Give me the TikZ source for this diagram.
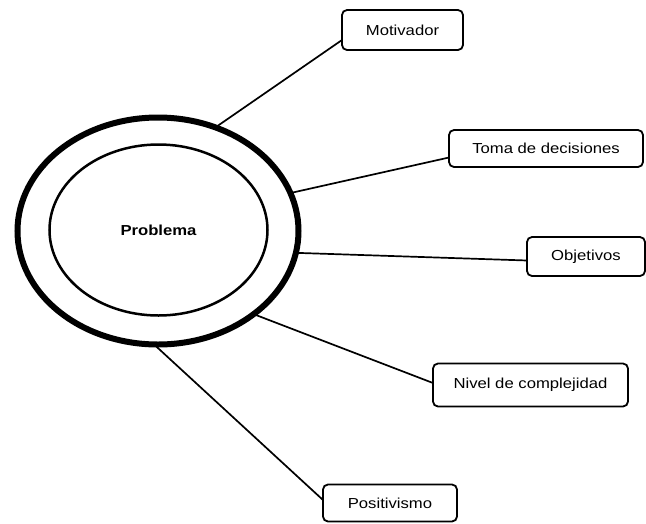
\documentclass[tikz,border=0pt]{standalone}
\usepackage{fontspec}
\setmainfont{Liberation Sans}[FakeStretch=1.15]
\usetikzlibrary{shapes.geometric}
\begin{document}
\begin{tikzpicture}[x=1pt,y=-1pt,
  labelbox/.style={draw, line width=1.8pt, rounded corners=5pt, inner sep=0pt,
    outer sep=0pt, font=\fontsize{14.5}{16}\selectfont},
  ring/.style={ellipse, draw, inner sep=0pt, outer sep=0pt},
  link/.style={line width=1.7pt}]
  \useasboundingbox (0,0) rectangle (646,523);

  % central problem: double ring
  \node[ring, line width=6pt, minimum width=281pt, minimum height=227pt] (outer) at (158,231) {};
  \node[ring, line width=2.5pt, minimum width=218pt, minimum height=171pt,
        font=\bfseries\fontsize{14.5}{16}\selectfont] (inner) at (158.5,230) {Problema};

  % surrounding aspects
  \node[labelbox, minimum width=121pt, minimum height=40pt] (mot) at (402.5,30) {Motivador};
  \node[labelbox, minimum width=194pt, minimum height=37pt] (toma) at (546,148.5) {Toma de decisiones};
  \node[labelbox, minimum width=118pt, minimum height=39pt] (obj) at (586,256.5) {Objetivos};
  \node[labelbox, minimum width=195pt, minimum height=43pt] (niv) at (530.5,385) {Nivel de complejidad};
  \node[labelbox, minimum width=134pt, minimum height=37pt] (pos) at (390,503) {Positivismo};

  % connectors from the ring to each box
  \draw[link] (outer.61) -- ([yshift=-10pt]mot.west);
  \draw[link] (outer.16) -- ([yshift=-9pt]toma.west);
  \draw[link] (outer.-9.6) -- ([yshift=-4pt]obj.west);
  \draw[link] (outer.-41) -- ([yshift=2pt]niv.west);
  \draw[link] (outer.-92.4) -- ([yshift=3pt]pos.west);
\end{tikzpicture}
\end{document}
